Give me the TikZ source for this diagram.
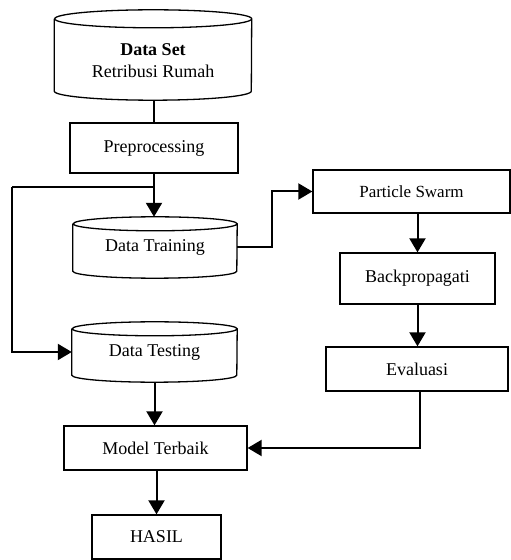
\documentclass[tikz,border=0pt]{standalone}
\usepackage{fontspec}
\setmainfont{Liberation Serif}
\usetikzlibrary{arrows.meta,calc}
\begin{document}
\begin{tikzpicture}[x=1pt,y=1pt,
  txt/.style={font=\fontsize{18}{22}\selectfont},
  box/.style={txt,draw,line width=1.3pt,inner sep=0pt},
  cylnode/.style={txt,inner sep=0pt},
  edge/.style={line width=1.3pt},
  conn/.style={line width=2pt},
  arr/.style={conn,-{Triangle[length=14pt,width=16pt]}}
]
\useasboundingbox (0,0) rectangle (511,560);

% nodes
\node[cylnode,minimum width=197pt,minimum height=90pt] (ds) at (153,505) {};
\node[txt,align=center] (dst) at (153,499) {\textbf{Data Set}\\Retribusi Rumah};
\node[box,minimum width=168pt,minimum height=50pt] (pre) at (154,412) {Preprocessing};
\node[cylnode,minimum width=164pt,minimum height=61pt] (dtr) at (155,312.5) {Data Training};
\node[cylnode,minimum width=165pt,minimum height=60pt] (dte) at (154.5,208) {Data Testing};
\node[box,minimum width=183pt,minimum height=44pt] (mt) at (155.5,112) {Model Terbaik};
\node[box,minimum width=129pt,minimum height=44pt] (has) at (156.5,23) {HASIL};
\node[box,minimum width=197pt,minimum height=43pt,font=\fontsize{17}{20}\selectfont] (ps) at (411.5,368.5) {Particle Swarm};
\node[box,minimum width=155pt,minimum height=51pt] (bp) at (417.5,281.5) {Backpropagati};
\node[box,minimum width=182pt,minimum height=44pt] (ev) at (417,191) {Evaluasi};

% cylinders
\draw[edge] ([yshift=-9pt]ds.north west) -- ([yshift=9pt]ds.south west)
  arc[start angle=180,end angle=360,x radius=98.5pt,y radius=9pt]
  -- ([yshift=-9pt]ds.north east)
  arc[start angle=0,end angle=180,x radius=98.5pt,y radius=9pt]
  arc[start angle=180,end angle=360,x radius=98.5pt,y radius=9pt];
\draw[edge] ([yshift=-7pt]dtr.north west) -- ([yshift=7pt]dtr.south west)
  arc[start angle=180,end angle=360,x radius=82pt,y radius=7pt]
  -- ([yshift=-7pt]dtr.north east)
  arc[start angle=0,end angle=180,x radius=82pt,y radius=7pt]
  arc[start angle=180,end angle=360,x radius=82pt,y radius=7pt];
\draw[edge] ([yshift=-7pt]dte.north west) -- ([yshift=7pt]dte.south west)
  arc[start angle=180,end angle=360,x radius=82.5pt,y radius=7pt]
  -- ([yshift=-7pt]dte.north east)
  arc[start angle=0,end angle=180,x radius=82.5pt,y radius=7pt]
  arc[start angle=180,end angle=360,x radius=82.5pt,y radius=7pt];

% connectors
\coordinate (j1) at (154,373);
\coordinate (lx) at (12,373);
\coordinate (bx) at (272,312.5);
\draw[edge] (ds.south -| pre.north) -- (pre.north);
\draw[arr] (pre.south) -- (pre.south |- dtr.north);
\draw[conn] (j1) -- (lx);
\draw[arr] (lx) |- (dte.west);
\draw[arr] (dtr.east) -- (bx) |- (ps.west);
\draw[arr] (bp.north |- ps.south) -- (bp.north);
\draw[arr] (bp.south) -- (bp.south |- ev.north);
\draw[arr] ([xshift=3pt]ev.south) |- (mt.east);
\draw[arr] (dte.south) -- (dte.south |- mt.north);
\draw[arr] (mt.south -| has.north) -- (has.north);
\end{tikzpicture}
\end{document}
